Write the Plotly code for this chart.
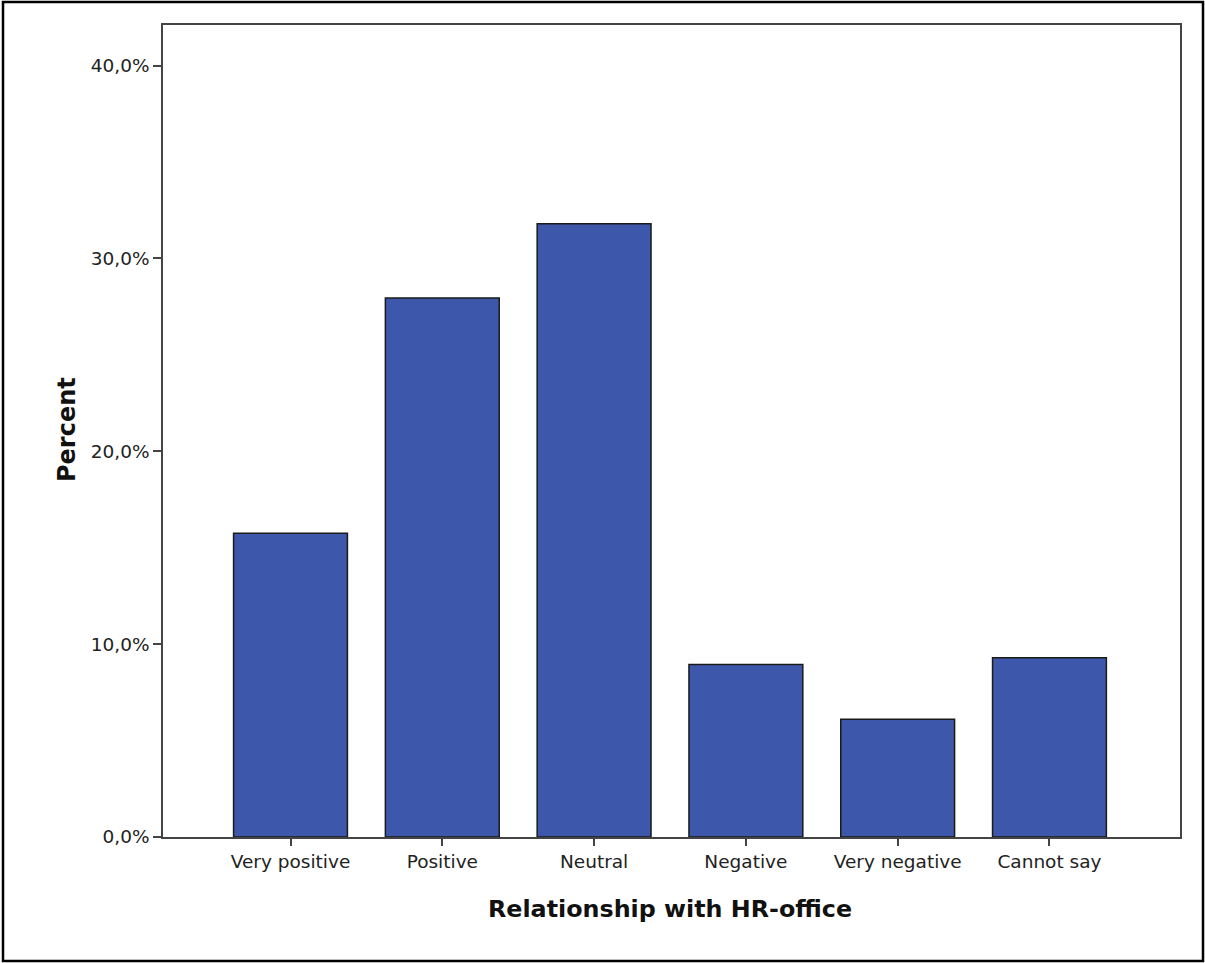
import plotly.graph_objects as go

categories = ["Very positive", "Positive", "Neutral", "Negative", "Very negative", "Cannot say"]
percent = [15.75, 27.95, 31.8, 8.95, 6.1, 9.3]
y_ticks = [0, 10, 20, 30, 40]
y_tick_labels = ["0,0%", "10,0%", "20,0%", "30,0%", "40,0%"]

W, H = 1205, 963
L, R, T, B = 163, 25, 25, 126
pw, ph = W - L - R, H - T - B
FONT = "DejaVu Sans, Arial, sans-serif"

fig = go.Figure(go.Bar(
    x=list(range(len(categories))), y=percent,
    width=0.75,
    marker=dict(color="#3D58AB", line=dict(color="#1a1a1a", width=1.5)),
))

fig.update_layout(
    width=W, height=H,
    margin=dict(l=L, r=R, t=T, b=B),
    paper_bgcolor="white", plot_bgcolor="white",
    showlegend=False,
    font=dict(family=FONT, size=18.5, color="#222"),
    xaxis=dict(
        tickmode="array", tickvals=list(range(len(categories))), ticktext=categories,
        range=[-0.84, 5.86], showline=True, mirror=True, linecolor="#444", linewidth=1.5,
        ticks="outside", ticklen=7, tickcolor="#444", tickwidth=1.5, showgrid=False,
        zeroline=False, tickfont=dict(family=FONT, size=18.5, color="#222"),
    ),
    yaxis=dict(
        tickmode="array", tickvals=y_ticks, ticktext=y_tick_labels,
        range=[0, 42.1], showline=True, mirror=True, linecolor="#444", linewidth=1.5,
        ticks="outside", ticklen=8, tickcolor="#444", tickwidth=1.5, showgrid=False,
        zeroline=False, tickfont=dict(family=FONT, size=18.5, color="#222"),
    ),
    annotations=[
        dict(text="<b>Relationship with HR-office</b>", xref="paper", yref="paper",
             x=(670 - L) / pw, y=(H - B - 909) / ph, showarrow=False,
             font=dict(family=FONT, size=23.8, color="#111"), xanchor="center", yanchor="middle"),
        dict(text="<b>Percent</b>", xref="paper", yref="paper",
             x=(67 - L) / pw, y=(H - B - 430) / ph, showarrow=False, textangle=-90,
             font=dict(family=FONT, size=24, color="#111"), xanchor="center", yanchor="middle"),
    ],
    shapes=[
        dict(type="rect", xref="paper", yref="paper",
             x0=(3 - L) / pw, x1=(1203 - L) / pw,
             y0=(H - B - 961) / ph, y1=(H - B - 2) / ph,
             line=dict(color="black", width=2.5), layer="above"),
    ],
)

fig.write_html(
    "out.html",
    config={"displayModeBar": False},
    post_script="document.body.style.margin='0';document.body.style.overflow='hidden';",
)
